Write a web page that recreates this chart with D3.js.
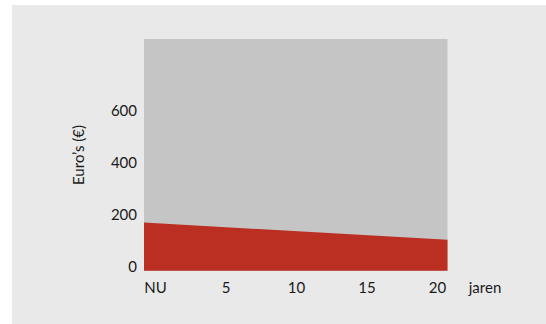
<!DOCTYPE html>
<html><head><meta charset="utf-8">
<script src="https://cdn.jsdelivr.net/npm/d3@7"></script>
<style>html,body{margin:0;padding:0;background:#fff;}svg{display:block;}</style>
</head><body>
<script>
const years = [0, 20];
const values = [185, 119];
const yTicks = [0, 200, 400, 600];
const xTickValues = [0, 5, 10, 15, 20];
const xTickLabels = ["NU", "5", "10", "15", "20"];
const yTitle = "Euro\u2019s (\u20ac)";
const xTitle = "jaren";

const W = 546, H = 324;
const svg = d3.select("body").append("svg").attr("width", W).attr("height", H);
svg.append("rect").attr("x", 12).attr("y", 5).attr("width", W - 12).attr("height", H - 5).attr("fill", "#e9e9e9");

const x = d3.scaleLinear().domain([0, 20]).range([144, 447.5]);
const y = d3.scaleLinear().domain([0, 890]).range([270.7, 39]);
const xLab = d3.scaleLinear().domain([0, 20]).range([155, 437]);

svg.append("rect").attr("x", x(0)).attr("y", y(890)).attr("width", x(20) - x(0)).attr("height", y(0) - y(890)).attr("fill", "#c5c5c6");

const data = years.map((d, i) => ({ x: d, v: values[i] }));
svg.append("path").datum(data)
  .attr("d", d3.area().x(d => x(d.x)).y0(y(0)).y1(d => y(d.v)))
  .attr("fill", "#bb2f22");

const font = "Lato, 'Open Sans', sans-serif";
// y axis
const yAxis = d3.axisLeft(y).tickValues(yTicks).tickSize(0).tickPadding(0).tickFormat(d3.format("d"));
const gy = svg.append("g").attr("transform", "translate(137,-4)").call(yAxis);
gy.select(".domain").remove();
gy.selectAll("text").attr("font-family", font).attr("font-size", 15).attr("fill", "#1a1a1a");

// x axis
const xAxis = d3.axisBottom(xLab).tickValues(xTickValues).tickSize(0).tickPadding(0).tickFormat((d, i) => xTickLabels[i]);
const gx = svg.append("g").attr("transform", "translate(0,288)").call(xAxis);
gx.select(".domain").remove();
gx.selectAll("text").attr("font-family", font).attr("font-size", 15).attr("fill", "#1a1a1a").attr("dy", "0.32em");

svg.append("text").attr("x", 485).attr("y", 293).attr("text-anchor", "middle")
  .attr("font-family", font).attr("font-size", 15).attr("fill", "#1a1a1a").text(xTitle);

svg.append("text").attr("transform", "translate(84,155) rotate(-90)").attr("text-anchor", "middle")
  .attr("font-family", font).attr("font-size", 15).attr("fill", "#1a1a1a").text(yTitle);
</script>
</body></html>
